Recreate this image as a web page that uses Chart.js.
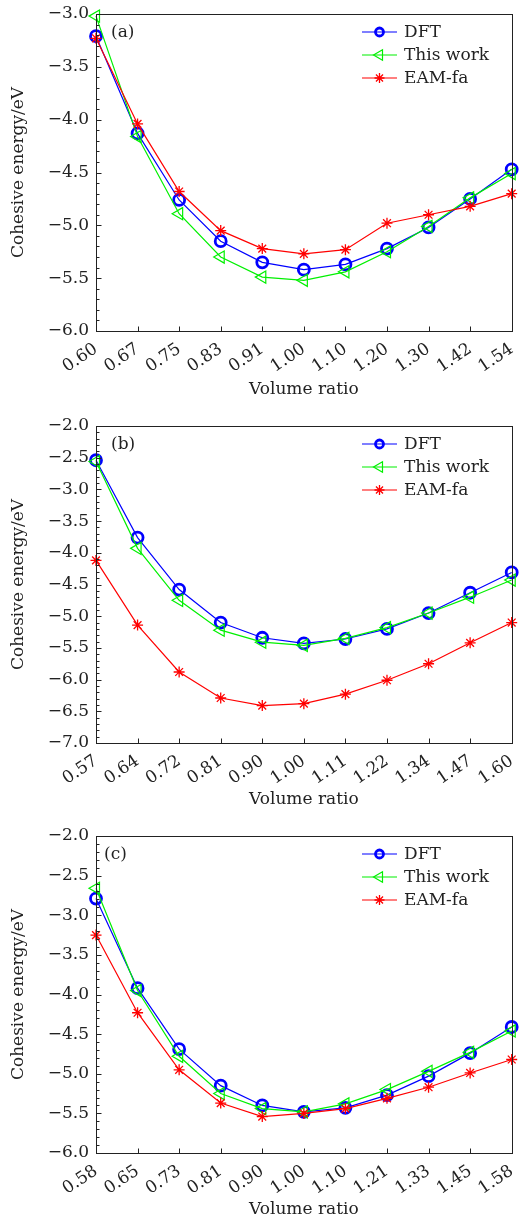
<!DOCTYPE html>
<html>
<head>
<meta charset="utf-8">
<script src="https://cdn.jsdelivr.net/npm/chart.js@4.4.0/dist/chart.umd.min.js"></script>
<style>
  html, body { margin: 0; padding: 0; background: #fff; overflow: hidden; }
  canvas { display: block; }
</style>
</head>
<body>
<canvas id="panelA" width="520" height="410"></canvas>
<canvas id="panelB" width="520" height="410"></canvas>
<canvas id="panelC" width="520" height="410"></canvas>
<script>
// volume ratios (x categories)
const ratiosA = ['0.60', '0.67', '0.75', '0.83', '0.91', '1.00', '1.10', '1.20', '1.30', '1.42', '1.54']
const ratiosB = ['0.57', '0.64', '0.72', '0.81', '0.90', '1.00', '1.11', '1.22', '1.34', '1.47', '1.60']
const ratiosC = ['0.58', '0.65', '0.73', '0.81', '0.90', '1.00', '1.10', '1.21', '1.33', '1.45', '1.58']

// cohesive energy, eV
const dftA = [-3.21, -4.13, -4.76, -5.15, -5.35, -5.42, -5.37, -5.22, -5.02, -4.75, -4.47]
const oursA = [-3.02, -4.16, -4.89, -5.30, -5.49, -5.52, -5.44, -5.25, -5.01, -4.74, -4.51]
const eamA = [-3.23, -4.04, -4.68, -5.05, -5.22, -5.27, -5.23, -4.98, -4.90, -4.82, -4.70]

const dftB = [-2.54, -3.76, -4.58, -5.10, -5.34, -5.43, -5.36, -5.20, -4.95, -4.63, -4.31]
const oursB = [-2.56, -3.93, -4.75, -5.22, -5.41, -5.46, -5.35, -5.18, -4.95, -4.70, -4.43]
const eamB = [-4.12, -5.14, -5.88, -6.29, -6.41, -6.38, -6.23, -6.01, -5.75, -5.42, -5.10]

const dftC = [-2.79, -3.92, -4.69, -5.15, -5.40, -5.48, -5.43, -5.27, -5.03, -4.74, -4.41]
const oursC = [-2.66, -3.95, -4.78, -5.25, -5.44, -5.48, -5.38, -5.20, -4.97, -4.73, -4.46]
const eamC = [-3.25, -4.23, -4.95, -5.37, -5.54, -5.50, -5.44, -5.31, -5.17, -4.99, -4.82]

// y axis ranges [min, max]
const yRangeA = [-6, -3]
const yRangeB = [-7, -2]
const yRangeC = [-6, -2]

const seriesNames = ['DFT', 'This work', 'EAM-fa']

const FONT = '"DejaVu Serif", "Liberation Serif", serif'
Chart.defaults.font.family = FONT
Chart.defaults.font.size = 17
Chart.defaults.color = '#222'

const fmt = v => (v < 0 ? '\u2212' : '') + Math.abs(v).toFixed(1)

// frame, inner ticks, legend and panel tag
const panelDecor = {
    id: 'panelDecor',
    afterDatasetsDraw(chart, args, opts) {
        const ctx = chart.ctx
        const a = chart.chartArea
        const x = chart.scales.x
        const y = chart.scales.y
        const L = Math.round(a.left) + 0.5
        const B = Math.round(a.bottom) + 0.5
        ctx.save()
        ctx.strokeStyle = '#222'
        ctx.lineWidth = 1
        ctx.strokeRect(L, Math.round(a.top) + 0.5, Math.round(a.right - a.left), Math.round(a.bottom - a.top))

        ctx.beginPath()
        x.ticks.forEach((t, i) => {
            const px = Math.round(x.getPixelForTick(i)) + 0.5
            ctx.moveTo(px, B)
            ctx.lineTo(px, B - 5)
        })
        const n = Math.round((y.max - y.min) * 10)
        for (let k = 0; k <= n; k++) {
            const py = Math.round(y.getPixelForValue(y.min + k / 10)) + 0.5
            ctx.moveTo(L, py)
            ctx.lineTo(L + (k % 5 === 0 ? 5 : 3), py)
        }
        ctx.stroke()

        // legend
        ctx.font = '17px ' + FONT
        ctx.textBaseline = 'middle'
        ctx.textAlign = 'left'
        chart.data.datasets.forEach((ds, i) => {
            const yy = a.top + opts.rows[i]
            ctx.strokeStyle = ds.borderColor
            ctx.fillStyle = 'rgba(0,0,0,0)'
            ctx.lineWidth = 1.2
            ctx.beginPath()
            ctx.moveTo(362, yy)
            ctx.lineTo(397, yy)
            ctx.stroke()
            ctx.lineWidth = ds.pointBorderWidth
            Chart.helpers.drawPoint(ctx, {
                pointStyle: ds.pointStyle,
                rotation: ds.pointRotation || 0,
                radius: ds.legendRadius,
                borderWidth: ds.pointBorderWidth
            }, 379.5, yy)
            ctx.fillStyle = '#222'
            ctx.fillText(ds.label, 404, yy + 1)
        })

        ctx.fillStyle = '#222'
        ctx.fillText(opts.tag, a.left + opts.tagX, a.top + 19)
        ctx.restore()
    }
}

function makePanel(id, ratios, dft, ours, eam, yRange, tag, tagX, top, bottom) {
    const H = 410
    return new Chart(document.getElementById(id), {
        type: 'line',
        data: {
            labels: ratios,
            datasets: [{
                label: seriesNames[0],
                data: dft,
                borderColor: '#0000ff',
                borderWidth: 1.2,
                pointStyle: 'circle',
                pointRadius: 5.5,
                pointBorderWidth: 2.8,
                pointBackgroundColor: 'rgba(0,0,0,0)',
                legendRadius: 4,
                clip: false,
                order: 3
            }, {
                label: seriesNames[1],
                data: ours,
                borderColor: '#00f000',
                borderWidth: 1.2,
                pointStyle: 'triangle',
                pointRotation: -90,
                pointRadius: 7,
                pointBorderWidth: 1.2,
                pointBackgroundColor: 'rgba(0,0,0,0)',
                legendRadius: 6,
                clip: false,
                order: 2
            }, {
                label: seriesNames[2],
                data: eam,
                borderColor: '#ff0000',
                borderWidth: 1.2,
                pointStyle: 'star',
                pointRadius: 5.5,
                pointBorderWidth: 1.3,
                legendRadius: 5,
                clip: false,
                order: 1
            }]
        },
        options: {
            responsive: false,
            animation: false,
            layout: {
                padding: { top: top, right: 8, left: 0, bottom: 0 }
            },
            scales: {
                x: {
                    type: 'category',
                    offset: false,
                    grid: { display: false, drawTicks: false },
                    border: { display: false },
                    ticks: {
                        autoSkip: false,
                        minRotation: 34,
                        maxRotation: 34,
                        padding: 8,
                        font: { size: 17 }
                    },
                    title: {
                        display: true,
                        text: 'Volume ratio',
                        font: { size: 17 },
                        padding: { top: 0, bottom: 10 }
                    },
                    afterFit: s => {
                        s.height = H - bottom
                        s.paddingLeft = 0
                        s.paddingRight = 0
                    }
                },
                y: {
                    min: yRange[0],
                    max: yRange[1],
                    grid: { display: false, drawTicks: false },
                    border: { display: false },
                    ticks: {
                        stepSize: 0.5,
                        padding: 7,
                        callback: fmt,
                        font: { size: 17 }
                    },
                    title: {
                        display: true,
                        text: 'Cohesive energy/eV',
                        font: { size: 17 },
                        padding: { top: 8, bottom: 0 }
                    },
                    afterFit: s => {
                        s.width = 96
                        s.paddingTop = 0
                        s.paddingBottom = 0
                    }
                }
            },
            plugins: {
                legend: { display: false },
                tooltip: { enabled: false },
                panelDecor: {
                    rows: [18, 41, 64],
                    tag: tag,
                    tagX: tagX
                }
            }
        },
        plugins: [panelDecor]
    })
}

makePanel('panelA', ratiosA, dftA, oursA, eamA, yRangeA, '(a)', 15, 14, 331)
makePanel('panelB', ratiosB, dftB, oursB, eamB, yRangeB, '(b)', 15, 16, 333)
makePanel('panelC', ratiosC, dftC, oursC, eamC, yRangeC, '(c)', 8, 16, 333)
</script>
</body>
</html>
